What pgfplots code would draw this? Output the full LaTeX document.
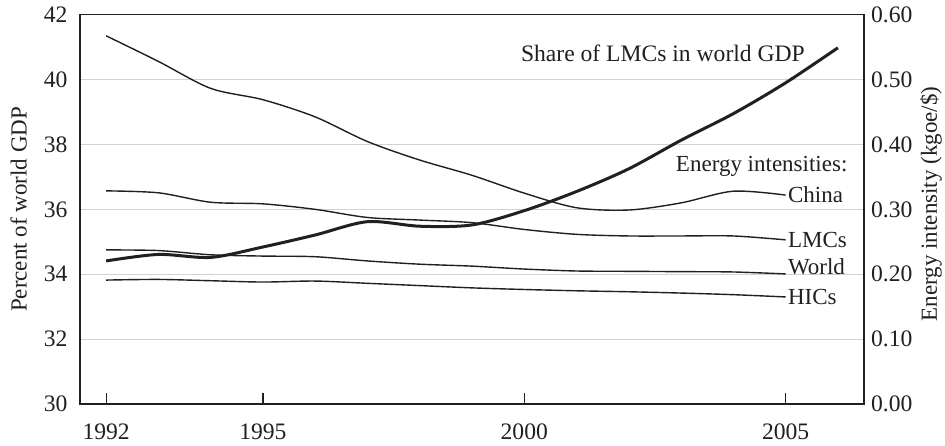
\documentclass[border=0pt]{standalone}
\usepackage{fontspec}
\setmainfont{Liberation Serif}
\usepackage{pgfplots}
\pgfplotsset{compat=1.18}
\definecolor{ink}{HTML}{231F20}
\definecolor{gridc}{HTML}{D2D2D2}
\begin{document}
\begin{tikzpicture}[font=\fontsize{11.5}{13.5}\selectfont]
\pgfplotsset{
 common/.style={
  scale only axis, width=392pt, height=194.65pt,
  xmin=1991.5, xmax=2006.5,
  /pgf/number format/assume math mode=true,
  tick label style={font=\fontsize{11.8}{13.5}\selectfont, text=ink},
  label style={font=\fontsize{11.5}{13.5}\selectfont, text=ink},
  axis line style={ink, line width=0.6pt},
 }
}
\begin{axis}[common,
  ymin=30, ymax=42, ytick={30,32,34,36,38,40,42},
  xtick={1992,1995,2000,2005},
  xticklabel style={/pgf/number format/1000 sep={}, yshift=-6.5pt},
  xtick pos=bottom, ytick pos=left, tick align=inside, major tick length=5.3pt,
  ytick style={draw=none},
  xtick style={ink, line width=0.6pt},
  ymajorgrids, grid style={gridc, line width=0.6pt},
  yticklabel style={xshift=-2.7pt},
  ylabel={Percent of world GDP},
  ylabel style={at={(axis description cs:-0.0784,0.5)}, anchor=center},
]
\addplot[ink, line width=1.5pt, smooth] coordinates {
(1992,34.41) (1993,34.61) (1994,34.52) (1995,34.84) (1996,35.21) (1997,35.62)
(1998,35.48) (1999,35.52) (2000,35.96) (2001,36.55) (2002,37.25) (2003,38.13)
(2004,38.95) (2005,39.90) (2006,40.98)};
\node[anchor=west, inner sep=0pt, text=ink, font=\fontsize{11.8}{14}\selectfont] at (axis cs:1999.93,40.80) {Share of LMCs in world GDP};
\end{axis}
\begin{axis}[common,
  ymin=0, ymax=0.6, ytick={0,0.1,0.2,0.3,0.4,0.5,0.6},
  axis y line*=right, axis x line=none, xtick=\empty,
  ytick style={draw=none},
  yticklabel style={/pgf/number format/.cd, fixed, fixed zerofill, precision=2},
  ylabel={Energy intensity (kgoe/\$)},
  ylabel style={at={(axis description cs:1.0855,0.514)}, anchor=center},
]
% China
\addplot[ink, line width=0.7pt, smooth] coordinates {
(1992,0.5675) (1993,0.528) (1994,0.4865) (1995,0.469) (1996,0.4425) (1997,0.4045)
(1998,0.376) (1999,0.3525) (2000,0.325) (2001,0.3025) (2002,0.299) (2003,0.310)
(2004,0.328) (2005,0.322)};
% LMCs
\addplot[ink, line width=0.7pt, smooth] coordinates {
(1992,0.3285) (1993,0.3255) (1994,0.311) (1995,0.3085) (1996,0.300) (1997,0.2875)
(1998,0.2835) (1999,0.2795) (2000,0.269) (2001,0.2615) (2002,0.259) (2003,0.259)
(2004,0.259) (2005,0.253)};
% World
\addplot[ink, line width=0.7pt, smooth] coordinates {
(1992,0.2375) (1993,0.2365) (1994,0.230) (1995,0.228) (1996,0.227) (1997,0.2205)
(1998,0.2155) (1999,0.2125) (2000,0.208) (2001,0.205) (2002,0.2045) (2003,0.204)
(2004,0.2035) (2005,0.2005)};
% HICs
\addplot[ink, line width=0.7pt, smooth] coordinates {
(1992,0.191) (1993,0.192) (1994,0.190) (1995,0.188) (1996,0.1895) (1997,0.186)
(1998,0.1825) (1999,0.179) (2000,0.1765) (2001,0.1745) (2002,0.173) (2003,0.171)
(2004,0.1685) (2005,0.165)};
\node[anchor=west, inner sep=1pt, text=ink] at (axis cs:2005,0.322) {China};
\node[anchor=west, inner sep=1pt, text=ink] at (axis cs:2005,0.253) {LMCs};
\node[anchor=west, inner sep=1pt, text=ink, yshift=3.5pt] at (axis cs:2005,0.2005) {World};
\node[anchor=west, inner sep=1pt, text=ink] at (axis cs:2005,0.165) {HICs};
\node[anchor=east, inner sep=0pt, text=ink] at (axis cs:2006.19,0.3655) {Energy intensities:};
\end{axis}
\pgfresetboundingbox
\path[use as bounding box] (-40pt,-20.5pt) rectangle (432.5pt,202pt);
\end{tikzpicture}
\end{document}
